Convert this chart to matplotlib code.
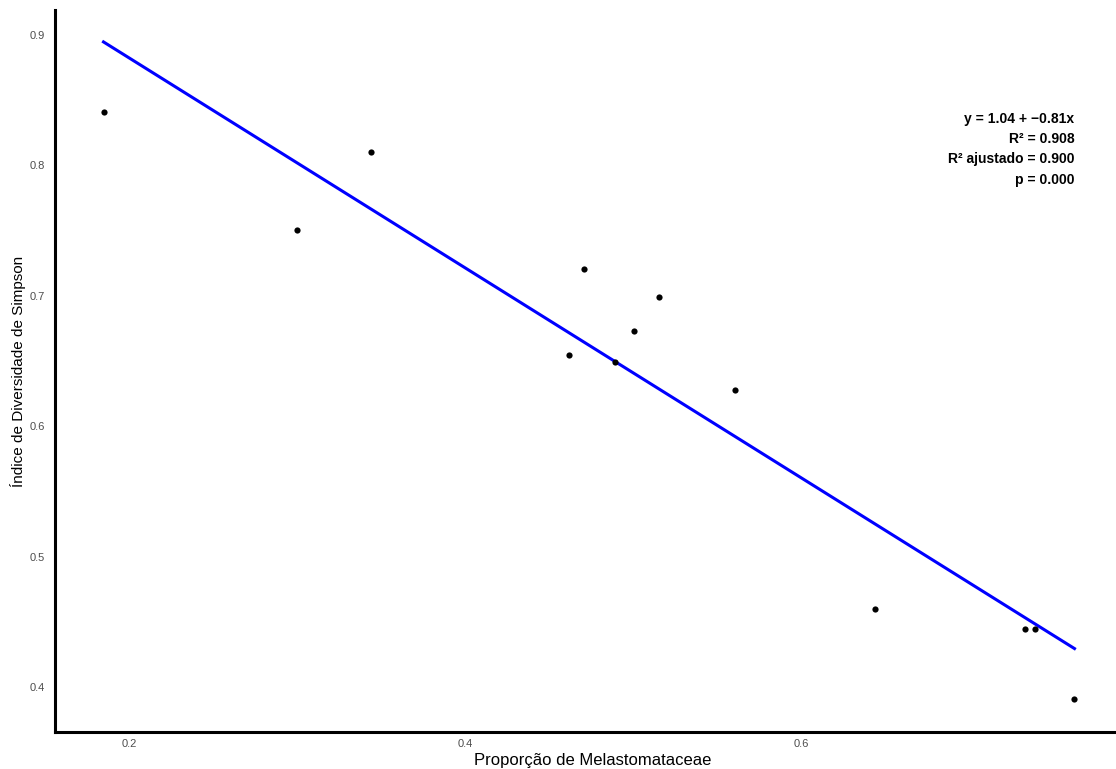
import matplotlib
matplotlib.use("Agg")
import matplotlib.pyplot as plt
import numpy as np

plt.rcParams["font.family"] = ["Liberation Sans", "DejaVu Sans"]

# proporção de Melastomataceae vs índice de Simpson
prop_melas = [0.1845, 0.300, 0.344, 0.4708, 0.4619, 0.4893, 0.5006,
              0.5155, 0.5607, 0.644, 0.7333, 0.7393, 0.763]
simpson = [0.841, 0.7505, 0.810, 0.7206, 0.6546, 0.6492, 0.673,
           0.699, 0.6278, 0.4598, 0.4445, 0.4445, 0.3908]
x_ticks = [0.2, 0.4, 0.6]
y_ticks = [0.4, 0.5, 0.6, 0.7, 0.8, 0.9]
stats_txt = "y = 1.04 + \u22120.81x\nR\u00b2 = 0.908\nR\u00b2 ajustado = 0.900\np = 0.000"

x = np.array(prop_melas)
y = np.array(simpson)
b, a = np.polyfit(x, y, 1)
xl = np.array([x.min(), x.max()])

fig = plt.figure(figsize=(11.16, 7.69), dpi=100)
ax = fig.add_axes([55 / 1116, 37 / 769, 1068 / 1116, 722 / 769])

ax.scatter(x, y, s=20, color="black", zorder=3, linewidths=0)
ax.plot(xl, a + b * xl, color="#0000ff", lw=2.2, zorder=2)

ax.set_xlim(0.1556, 0.7919)
ax.set_ylim(0.3655, 0.919)
ax.set_xticks(x_ticks)
ax.set_yticks(y_ticks)
ax.tick_params(length=0, labelsize=8, labelcolor="#4d4d4d", pad=7)
ax.tick_params(axis="x", pad=5)

for s in ["top", "right"]:
    ax.spines[s].set_visible(False)
for s in ["left", "bottom"]:
    ax.spines[s].set_linewidth(2.2)
    ax.spines[s].set_color("black")

ax.set_xlabel("Proporção de Melastomataceae", fontsize=12, labelpad=0)
ax.set_ylabel("Índice de Diversidade de Simpson", fontsize=11)
ax.xaxis.set_label_coords(538 / 1068, -0.029)
ax.yaxis.set_label_coords(-29 / 1068, 0.5)

ax.text(x.max(), 0.8405, stats_txt, ha="right", va="top", fontsize=10,
        fontweight="bold", linespacing=1.55, color="black")

plt.savefig("out.png", dpi=100)
plt.close()
